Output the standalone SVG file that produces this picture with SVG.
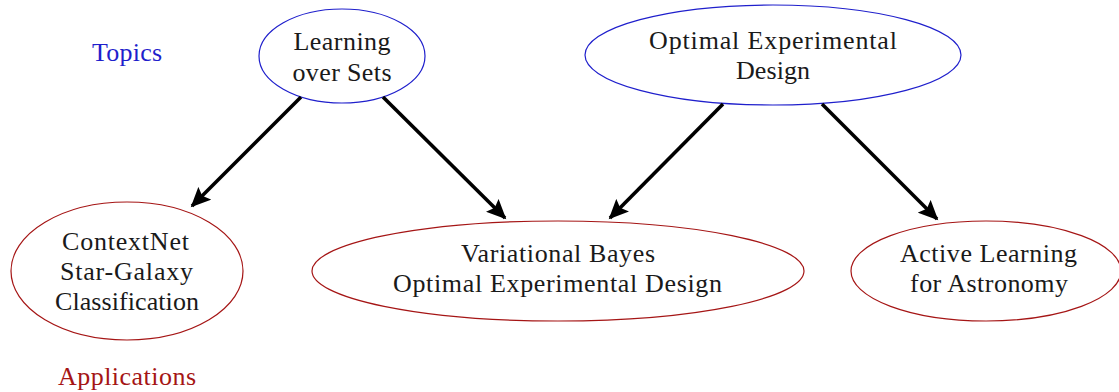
<svg xmlns="http://www.w3.org/2000/svg" width="1119" height="392" viewBox="0 0 1119 392">
<defs>
<style>
.t{font-size:26px;fill:#1a1a1a;text-anchor:middle}
.topic{fill:none;stroke:#1f1fcc;stroke-width:1.2}
.app{fill:none;stroke:#a51515;stroke-width:1.2}
.edge{stroke:#000;stroke-width:3.6;fill:none;marker-end:url(#ah)}
</style>
<marker id="ah" markerWidth="6" markerHeight="5" refX="5" refY="2.5" orient="auto" markerUnits="strokeWidth">
<path d="M0,0 L5.5,2.5 L0,5 L1,2.5 Z" fill="#000"/>
</marker>
</defs>
<rect width="1119" height="392" fill="#fff"/>
<g font-family="Liberation Serif, DejaVu Serif, serif">
<text class="t" x="127" y="61" textLength="70" style="fill:#1f1fcc">Topics</text>
<text class="t" x="127" y="385" textLength="138" style="fill:#a51515">Applications</text>
<g id="learning-over-sets">
<ellipse class="topic" cx="342" cy="56" rx="83" ry="47"/>
<text class="t" x="342" y="50" textLength="97">Learning</text>
<text class="t" x="342" y="81" textLength="99">over Sets</text>
</g>
<g id="oed">
<ellipse class="topic" cx="773" cy="55" rx="188" ry="50"/>
<text class="t" x="773" y="49" textLength="248">Optimal Experimental</text>
<text class="t" x="773" y="79" textLength="74">Design</text>
</g>
<g id="contextnet">
<ellipse class="app" cx="127" cy="271" rx="116" ry="69"/>
<text class="t" x="125.5" y="250" textLength="127">ContextNet</text>
<text class="t" x="126.5" y="280" textLength="133">Star-Galaxy</text>
<text class="t" x="127" y="310" textLength="144">Classification</text>
</g>
<g id="vboed">
<ellipse class="app" cx="558" cy="271" rx="246" ry="50"/>
<text class="t" x="558" y="262" textLength="194">Variational Bayes</text>
<text class="t" x="557.5" y="292" textLength="329">Optimal Experimental Design</text>
</g>
<g id="active-learning">
<ellipse class="app" cx="986" cy="271" rx="135" ry="50"/>
<text class="t" x="988.5" y="262" textLength="177">Active Learning</text>
<text class="t" x="989" y="292" textLength="158">for Astronomy</text>
</g>
</g>
<g id="connectors">
<line class="edge" x1="301" y1="97" x2="192" y2="206"/>
<line class="edge" x1="383" y1="97" x2="505" y2="218"/>
<line class="edge" x1="723" y1="104" x2="610" y2="218"/>
<line class="edge" x1="822" y1="104" x2="937" y2="219"/>
</g>
</svg>
